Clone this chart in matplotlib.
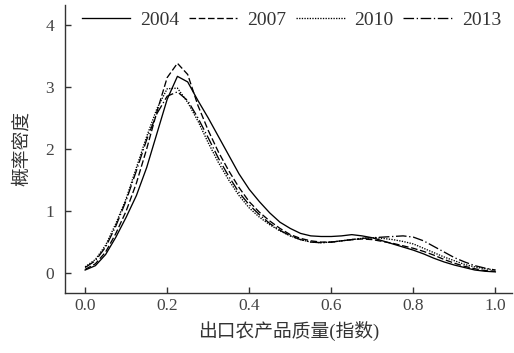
import numpy as np
import matplotlib
matplotlib.use("Agg")
import matplotlib.pyplot as plt

plt.rcParams['font.family'] = ['Liberation Serif', 'Noto Sans CJK SC']

x = np.linspace(0, 1, 41)

y2004 = [0.05, 0.12, 0.3, 0.58, 0.9, 1.25, 1.7, 2.25, 2.8, 3.17, 3.08, 2.78,
         2.5, 2.2, 1.9, 1.6, 1.35, 1.15, 0.97, 0.82, 0.72, 0.64, 0.6, 0.59,
         0.59, 0.6, 0.62, 0.6, 0.57, 0.52, 0.47, 0.42, 0.37, 0.31, 0.24, 0.18,
         0.13, 0.09, 0.05, 0.03, 0.02]
y2007 = [0.06, 0.15, 0.34, 0.64, 1.0, 1.45, 2.0, 2.6, 3.15, 3.38, 3.2, 2.7,
         2.3, 1.95, 1.65, 1.38, 1.15, 0.98, 0.84, 0.72, 0.62, 0.56, 0.52, 0.5,
         0.5, 0.52, 0.54, 0.55, 0.54, 0.51, 0.48, 0.44, 0.4, 0.35, 0.29, 0.22,
         0.16, 0.11, 0.07, 0.04, 0.03]
y2010 = [0.1, 0.22, 0.45, 0.8, 1.2, 1.7, 2.2, 2.65, 2.97, 2.98, 2.75, 2.45,
         2.1, 1.78, 1.5, 1.25, 1.05, 0.9, 0.78, 0.68, 0.6, 0.54, 0.5, 0.49,
         0.5, 0.52, 0.54, 0.56, 0.57, 0.56, 0.54, 0.51, 0.47, 0.4, 0.33, 0.26,
         0.2, 0.14, 0.1, 0.07, 0.05]
y2013 = [0.09, 0.2, 0.42, 0.76, 1.17, 1.65, 2.15, 2.57, 2.85, 2.92, 2.78, 2.5,
         2.18, 1.85, 1.56, 1.3, 1.1, 0.94, 0.8, 0.69, 0.6, 0.54, 0.5, 0.49,
         0.5, 0.52, 0.54, 0.56, 0.57, 0.58, 0.59, 0.6, 0.58, 0.52, 0.43, 0.34,
         0.25, 0.18, 0.12, 0.08, 0.05]

years = ['2004', '2007', '2010', '2013']
series = [y2004, y2007, y2010, y2013]
styles = ['-', (0, (5, 2)), (0, (1, 1)), (0, (8, 2, 1, 2))]

fig = plt.figure(figsize=(5.14, 3.53), dpi=100)
ax = fig.add_axes([0.1265, 0.17, 0.87, 0.816])

for yr, ys, ls in zip(years, series, styles):
    ax.plot(x, ys, color='black', linestyle=ls, linewidth=0.95, label=yr)

ax.set_xlim(-0.049, 1.041)
ax.set_ylim(-0.32, 4.32)
ax.set_xticks([0.0, 0.2, 0.4, 0.6, 0.8, 1.0])
ax.set_xticklabels(['0.0', '0.2', '0.4', '0.6', '0.8', '1.0'])
ax.set_yticks([0, 1, 2, 3, 4])
ax.spines['top'].set_visible(False)
ax.spines['right'].set_visible(False)
for s in ['left', 'bottom']:
    ax.spines[s].set_linewidth(1.0)
    ax.spines[s].set_color('#333333')
ax.tick_params(direction='in', length=4, width=1, labelsize=12.5,
               labelcolor='#444444', color='#333333')
ax.tick_params(axis='y', pad=8)

ax.set_xlabel('出口农产品质量(指数)', fontsize=13.5, color='#333333', labelpad=5)
ax.set_ylabel('概率密度', fontsize=13.5, color='#333333', labelpad=10)

ax.legend(loc='center', bbox_to_anchor=(0.506, 0.948), ncol=4, frameon=False,
          handlelength=2.5, handletextpad=0.5, columnspacing=0.5, fontsize=14,
          labelcolor='#333333', borderaxespad=0, borderpad=0)

fig.savefig('out.png', dpi=100)
